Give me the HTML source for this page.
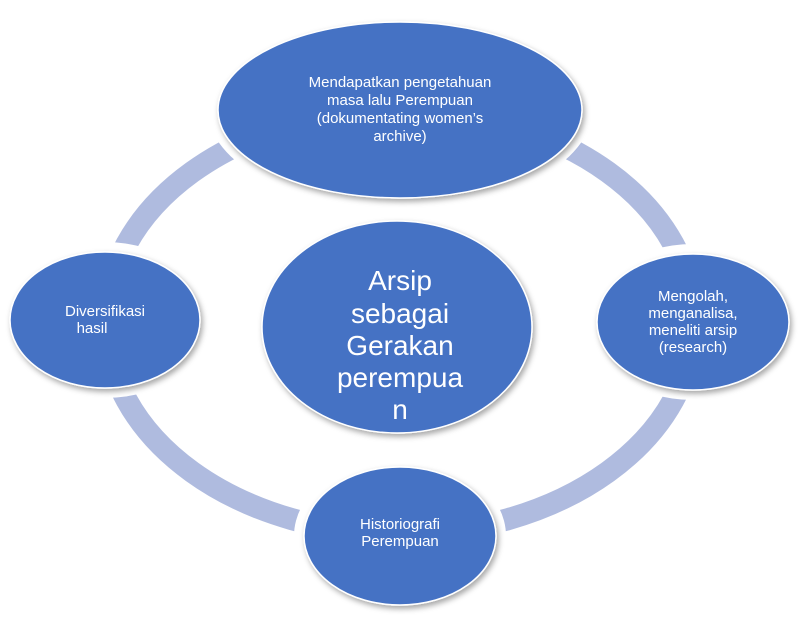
<!DOCTYPE html>
<html><head><meta charset="utf-8"><style>
html,body{margin:0;padding:0;background:#fff;}
svg text{font-family:"Liberation Sans",sans-serif;fill:#fff;}
</style></head><body>
<svg width="808" height="619" viewBox="0 0 808 619" xmlns="http://www.w3.org/2000/svg">
<defs><filter id="s" x="-20%" y="-20%" width="140%" height="140%"><feDropShadow dx="2" dy="3" stdDeviation="3" flood-color="#000" flood-opacity="0.35"/></filter></defs>
<ellipse cx="400" cy="322" rx="294" ry="212" fill="none" stroke="#afbbdf" stroke-width="22"/>
<g fill="#fff">
<ellipse cx="400" cy="110" rx="192" ry="98"/>
<ellipse cx="105" cy="320" rx="105" ry="78"/>
<ellipse cx="693" cy="322" rx="106" ry="78"/>
<ellipse cx="400" cy="536" rx="106" ry="79"/>
</g>
<g fill="#4472c4" stroke="#fff" stroke-width="1.5" filter="url(#s)">
<ellipse cx="400" cy="110" rx="182" ry="88"/>
<ellipse cx="397" cy="327" rx="135" ry="106"/>
<ellipse cx="105" cy="320" rx="95" ry="68"/>
<ellipse cx="693" cy="322" rx="96" ry="68"/>
<ellipse cx="400" cy="536" rx="96" ry="69"/>
</g>
<g font-size="15" text-anchor="middle">
<text x="400" y="87">Mendapatkan pengetahuan</text>
<text x="400" y="105">masa lalu Perempuan</text>
<text x="400" y="123">(dokumentating women’s</text>
<text x="400" y="141">archive)</text>
<text x="105" y="316">Diversifikasi</text>
<text x="92" y="333">hasil</text>
<text x="693" y="301">Mengolah,</text>
<text x="693" y="318">menganalisa,</text>
<text x="693" y="335">meneliti arsip</text>
<text x="693" y="352">(research)</text>
<text x="400" y="529">Historiografi</text>
<text x="400" y="546">Perempuan</text>
</g>
<g font-size="28" text-anchor="middle">
<text x="400" y="290">Arsip</text>
<text x="400" y="323">sebagai</text>
<text x="400" y="355">Gerakan</text>
<text x="400" y="387">perempua</text>
<text x="400" y="419">n</text>
</g>
</svg>
</body></html>
